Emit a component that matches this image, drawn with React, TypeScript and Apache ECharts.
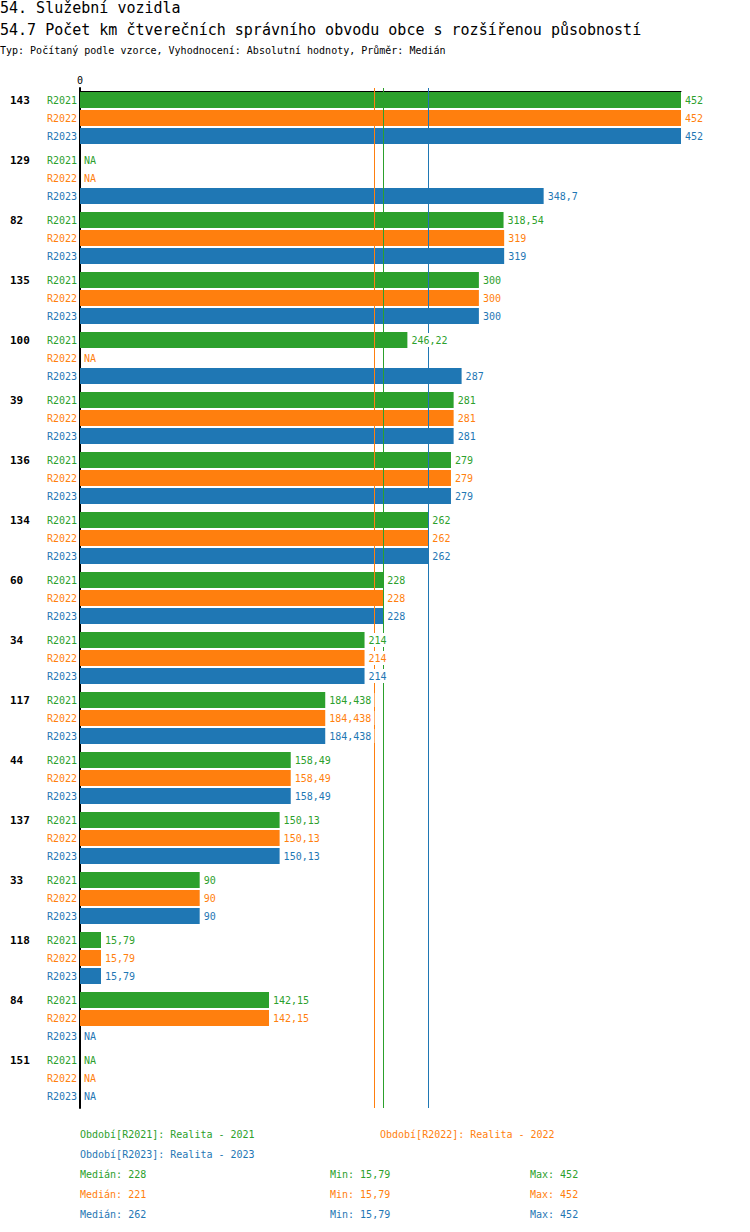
import React, { useEffect, useRef } from "react";
import * as echarts from "echarts";

const FONT = "DejaVu Sans Mono";
const COLORS = ["#2ca02c", "#ff7f0e", "#1f77b4"];
const SERIES_NAMES = ["R2021", "R2022", "R2023"];
const PERIOD_LABELS = ["Realita - 2021", "Realita - 2022", "Realita - 2023"];

const CATEGORIES = ["143", "129", "82", "135", "100", "39", "136", "134", "60", "34", "117", "44", "137", "33", "118", "84", "151"];
const R2021: (number | null)[] = [452, null, 318.54, 300, 246.22, 281, 279, 262, 228, 214, 184.438, 158.49, 150.13, 90, 15.79, 142.15, null];
const R2022: (number | null)[] = [452, null, 319, 300, null, 281, 279, 262, 228, 214, 184.438, 158.49, 150.13, 90, 15.79, 142.15, null];
const R2023: (number | null)[] = [452, 348.7, 319, 300, 287, 281, 279, 262, 228, 214, 184.438, 158.49, 150.13, 90, 15.79, null, null];

const MEDIANS = [228, 221, 262];
const MINS = [15.79, 15.79, 15.79];
const MAXS = [452, 452, 452];

const TITLE_1 = "54. Služební vozidla";
const TITLE_2 = "54.7 Počet km čtverečních správního obvodu obce s rozšířenou působností";
const SUBTITLE = "Typ: Počítaný podle vzorce, Vyhodnocení: Absolutní hodnoty, Průměr: Medián";

const fmt = (v: number) => String(v).replace(".", ",");

export default function App() {
  const ref = useRef<HTMLDivElement>(null);
  useEffect(() => {
    if (!ref.current) return;
    const chart = echarts.init(ref.current, undefined, { renderer: "svg" });
    const all = [R2021, R2022, R2023];

    const barSeries: any[] = all.map((vals, i) => ({
      name: SERIES_NAMES[i],
      type: "bar",
      yAxisIndex: 0,
      z: 2,
      barWidth: 16,
      barGap: "12.5%",
      data: vals.map((v) => (v == null ? null : v)),
      itemStyle: { color: COLORS[i] },
      label: { show: false },
      silent: true,
      markLine: {
        silent: true,
        symbol: "none",
        z: 5,
        label: { show: false },
        lineStyle: { color: COLORS[i], type: "solid", width: 1 },
        data: [{ xAxis: MEDIANS[i] }],
      },
    }));

    const labelSeries: any[] = all.map((vals, i) => ({
      name: SERIES_NAMES[i] + "_lbl",
      type: "bar",
      yAxisIndex: 1,
      z: 10,
      barWidth: 16,
      barGap: "12.5%",
      silent: true,
      data: vals.map((v) => (v == null ? 0 : v)),
      itemStyle: { color: "rgba(0,0,0,0)" },
      label: {
        show: true,
        position: "right",
        distance: 1,
        color: COLORS[i],
        fontFamily: FONT,
        fontSize: 10,
        lineHeight: 12,
        backgroundColor: "#fff",
        padding: [1, 3, 1, 3],
        formatter: (p: any) => {
          const v = vals[p.dataIndex];
          return v == null ? "NA" : fmt(v);
        },
      },
    }));

    const graphics: any[] = [];
    const txt = (text: string, x: number, y: number, fill: string, fontSize: number) => ({
      type: "text",
      x,
      y,
      silent: true,
      style: { text, fill, fontSize, fontFamily: FONT, align: "left", verticalAlign: "middle" },
    });
    graphics.push(txt(TITLE_1, 0, 8, "#000", 15));
    graphics.push(txt(TITLE_2, 0, 30, "#000", 15));
    graphics.push(txt(SUBTITLE, 0, 50, "#000", 10));
    const legendPos = [
      [80, 1134],
      [380, 1134],
      [80, 1154],
    ];
    SERIES_NAMES.forEach((n, i) => {
      graphics.push(txt(`Období[${n}]: ${PERIOD_LABELS[i]}`, legendPos[i][0], legendPos[i][1], COLORS[i], 10));
      const y = 1174 + i * 20;
      graphics.push(txt(`Medián: ${fmt(MEDIANS[i])}`, 80, y, COLORS[i], 10));
      graphics.push(txt(`Min: ${fmt(MINS[i])}`, 330, y, COLORS[i], 10));
      graphics.push(txt(`Max: ${fmt(MAXS[i])}`, 530, y, COLORS[i], 10));
    });

    const option: any = {
      animation: false,
      grid: { left: 80, right: 69, top: 88, height: 1020, containLabel: false },
      xAxis: {
        type: "value",
        position: "top",
        min: 0,
        max: 452,
        interval: 452,
        offset: -3,
        axisLine: { show: true, lineStyle: { color: "#000", width: 1 } },
        axisTick: { show: false },
        splitLine: { show: false },
        axisLabel: {
          color: "#000",
          fontFamily: FONT,
          fontSize: 10,
          margin: 6,
          formatter: (v: number) => (v === 0 ? "0" : ""),
        },
      },
      yAxis: [
        {
          type: "category",
          data: CATEGORIES,
          inverse: true,
          axisLine: { show: true, onZero: false, lineStyle: { color: "#000", width: 2 } },
          axisTick: { show: false },
          splitLine: { show: false },
          axisLabel: {
            margin: 3,
            align: "right",
            formatter: (value: string) =>
              `{g|${value}}{a|${SERIES_NAMES[0]}}\n{b|${SERIES_NAMES[1]}}\n{c|${SERIES_NAMES[2]}}`,
            rich: {
              g: { width: 37, align: "left", fontFamily: FONT, fontSize: 11, fontWeight: "bold", color: "#000", lineHeight: 18 },
              a: { fontFamily: FONT, fontSize: 10, color: COLORS[0], lineHeight: 18 },
              b: { fontFamily: FONT, fontSize: 10, color: COLORS[1], lineHeight: 18 },
              c: { fontFamily: FONT, fontSize: 10, color: COLORS[2], lineHeight: 18 },
            },
          },
        },
        {
          type: "category",
          data: CATEGORIES,
          inverse: true,
          show: false,
        },
      ],
      series: [...barSeries, ...labelSeries],
      graphic: graphics,
    };
    chart.setOption(option);
    return () => chart.dispose();
  }, []);
  return (
    <div
      ref={ref}
      style={{ position: "absolute", left: 0, top: 0, width: 750, height: 1232, background: "#fff" }}
    />
  );
}
